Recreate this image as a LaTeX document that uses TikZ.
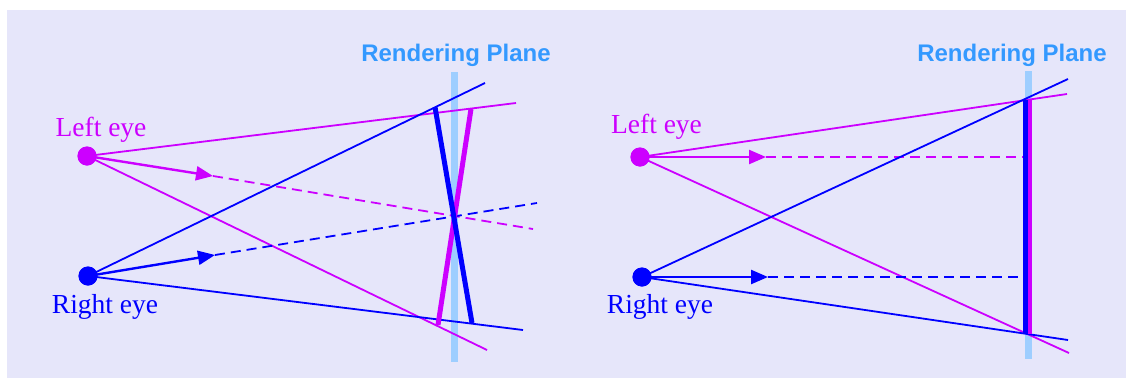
\documentclass[tikz,border=0pt]{standalone}
\usepackage{fontspec}
\setmainfont{Liberation Serif}
\newfontfamily\labelsans{Liberation Sans}
\usetikzlibrary{arrows.meta}
\definecolor{mag}{RGB}{204,0,255}
\definecolor{eyeblue}{RGB}{0,0,255}
\definecolor{planec}{RGB}{158,206,255}
\definecolor{planetext}{RGB}{51,153,255}
\definecolor{bgc}{RGB}{230,230,250}
\begin{document}
\begin{tikzpicture}[x=1pt,y=-1pt,
  thin ray/.style={line width=1.8pt},
  arrowray/.style={line width=2.4pt,-{Triangle[length=17pt,width=14pt]}},
  dashray/.style={line width=1.8pt,dash pattern=on 10pt off 6pt},
  thickline/.style={line width=5pt},
  planebar/.style={line width=7pt,color=planec},
  planelabel/.style={font=\labelsans\bfseries\fontsize{24}{28}\selectfont,text=planetext,anchor=base,inner sep=0pt},
  eyelabel/.style={font=\fontsize{27.5}{32}\selectfont,anchor=base,inner sep=0pt},
  eyedot/.style={circle,inner sep=0pt,minimum size=19pt},
]
\useasboundingbox (0,0) rectangle (1126,378);
\fill[bgc] (7,10) rectangle (1126,378);

% ---------------- Left panel ----------------
\coordinate (pa1) at (454,72);
\coordinate (pb1) at (454,362);
\draw[planebar] (pa1) -- (pb1);
\node[planelabel] (pl1) at (456,61) {Rendering Plane};

\node[eyedot,fill=mag] (le1) at (87,156) {};
\node[eyedot,fill=eyeblue] (re1) at (88,276) {};
\node[eyelabel,text=mag] (lt1) at (101,136) {Left eye};
\node[eyelabel,text=eyeblue] (rt1) at (105,313) {Right eye};

\coordinate (lu1) at (516,103);
\coordinate (ld1) at (487,350);
\coordinate (la1) at (213,176);
\coordinate (le1end) at (533,229);
\coordinate (ru1) at (485,83);
\coordinate (rd1) at (523,330);
\coordinate (ra1) at (215,255);
\coordinate (re1end) at (537,203);

\draw[thin ray,mag] (le1.center) -- (lu1);
\draw[thin ray,mag] (le1.center) -- (ld1);
\draw[dashray,mag] (la1) -- (le1end);
\draw[arrowray,mag] (le1.center) -- (la1);

\draw[thin ray,eyeblue] (re1.center) -- (ru1);
\draw[thin ray,eyeblue] (re1.center) -- (rd1);
\draw[dashray,eyeblue] (ra1) -- (re1end);
\draw[arrowray,eyeblue] (re1.center) -- (ra1);

\coordinate (mt1) at (471,109);
\coordinate (mb1) at (438,325);
\coordinate (bt1) at (435,107);
\coordinate (bb1) at (472,323);
\draw[thickline,mag] (mt1) -- (mb1);
\draw[thickline,eyeblue] (bt1) -- (bb1);

\node[eyedot,fill=mag] at (le1) {};
\node[eyedot,fill=eyeblue] at (re1) {};

% ---------------- Right panel ----------------
\coordinate (pa2) at (1028,71);
\coordinate (pb2) at (1028,359);
\draw[planebar] (pa2) -- (pb2);
\node[planelabel] (pl2) at (1012,61) {Rendering Plane};

\node[eyedot,fill=mag] (le2) at (640,157) {};
\node[eyedot,fill=eyeblue] (re2) at (642,277) {};
\node[eyelabel,text=mag] (lt2) at (656.5,133) {Left eye};
\node[eyelabel,text=eyeblue] (rt2) at (660,313) {Right eye};

\coordinate (lu2) at (1067,94);
\coordinate (ld2) at (1069,353);
\coordinate (la2) at (766,157);
\coordinate (le2end) at (1025,157);
\coordinate (ru2) at (1068,79);
\coordinate (rd2) at (1068,340);
\coordinate (ra2) at (768,277);
\coordinate (re2end) at (1025,277);

\draw[thin ray,mag] (le2.center) -- (lu2);
\draw[thin ray,mag] (le2.center) -- (ld2);
\draw[dashray,mag] (la2) -- (le2end);
\draw[arrowray,mag] (le2.center) -- (la2);

\draw[thin ray,eyeblue] (re2.center) -- (ru2);
\draw[thin ray,eyeblue] (re2.center) -- (rd2);
\draw[dashray,eyeblue] (ra2) -- (re2end);
\draw[arrowray,eyeblue] (re2.center) -- (ra2);

\coordinate (mt2) at (1029.5,100);
\coordinate (mb2) at (1029.5,334);
\coordinate (bt2) at (1025.5,100);
\coordinate (bb2) at (1025.5,334);
\draw[thickline,mag] (mt2) -- (mb2);
\draw[thickline,eyeblue] (bt2) -- (bb2);

\node[eyedot,fill=mag] at (le2) {};
\node[eyedot,fill=eyeblue] at (re2) {};
\end{tikzpicture}
\end{document}
